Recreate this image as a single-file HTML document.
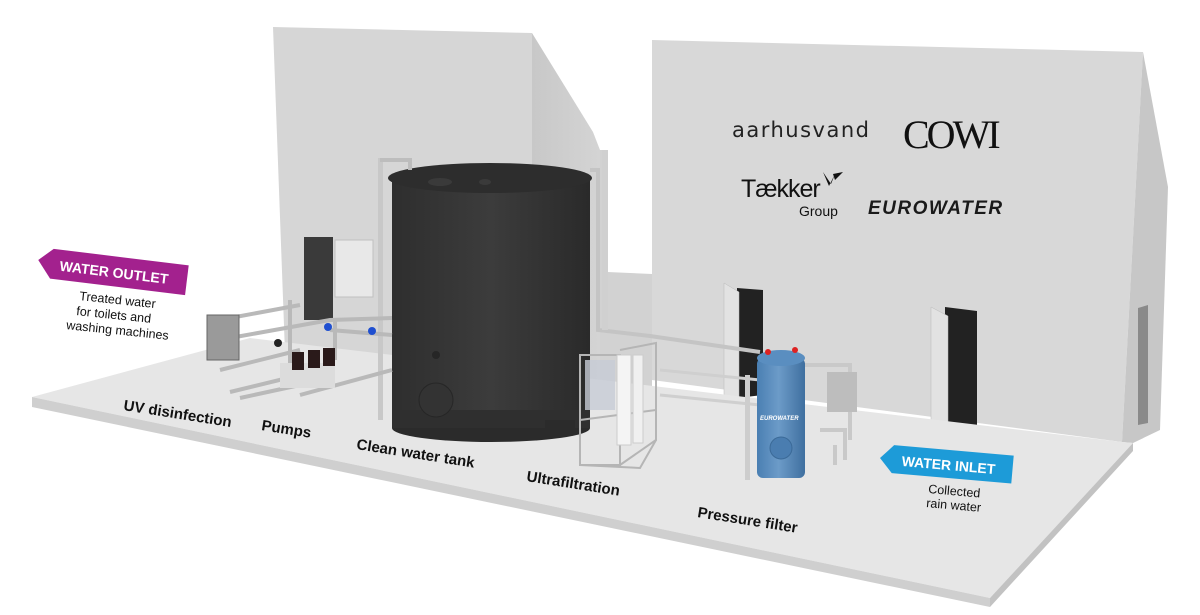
<!DOCTYPE html>
<html><head><meta charset="utf-8"><style>
html,body{margin:0;padding:0;background:#fff;}
svg{display:block}
.lbl{font-family:"Liberation Sans",sans-serif;font-weight:bold;fill:#111;font-size:15px}
.sm{font-family:"Liberation Sans",sans-serif;fill:#111;font-size:12.5px}
</style></head><body>
<svg width="1200" height="615" viewBox="0 0 1200 615" xmlns="http://www.w3.org/2000/svg">
<defs>
<linearGradient id="tank" x1="0" x2="1" y1="0" y2="0">
<stop offset="0" stop-color="#2e2e2e"/><stop offset="0.5" stop-color="#3c3c3c"/><stop offset="1" stop-color="#2a2a2a"/></linearGradient>
<linearGradient id="blue" x1="0" x2="1"><stop offset="0" stop-color="#4a7fb2"/><stop offset="0.45" stop-color="#6c9bc8"/><stop offset="1" stop-color="#3f6f9f"/></linearGradient>
<linearGradient id="side" x1="0" x2="1"><stop offset="0" stop-color="#c8c8c8"/><stop offset="1" stop-color="#d4d4d4"/></linearGradient>
</defs>
<rect width="1200" height="615" fill="#fff"/>
<polygon points="273,27 532,33 532,380 286,380" fill="#d6d6d6"/>
<polygon points="532,33 593,132 600,150 600,380 532,380" fill="url(#side)"/>
<polygon points="600,150 607,150 607,272 652,274 652,420 600,420" fill="#d2d2d2"/>
<polygon points="652,40 1143,52 1122,442 652,380" fill="#d8d8d8"/>
<polygon points="1143,52 1168,187 1160,430 1133,443 1122,442" fill="#c7c7c7"/>
<polygon points="1138,308 1148,305 1148,423 1138,425" fill="#8a8a8a"/>
<rect x="304" y="237" width="29" height="83" fill="#3a3a3a"/>
<rect x="335" y="240" width="38" height="57" fill="#e8e8e8" stroke="#c0c0c0"/>
<polygon points="737,288 763,290 763,395 737,398" fill="#222"/>
<polygon points="724,283 739,292 739,402 724,398" fill="#e2e2e2" stroke="#bbb" stroke-width="0.5"/>
<polygon points="945,307 977,311 977,425 945,428" fill="#222"/>
<polygon points="931,307 948,316 948,432 931,428" fill="#e2e2e2" stroke="#bbb" stroke-width="0.5"/>
<polygon points="32,397 250,338 1122,442 1133,443 990,598" fill="#e6e6e6"/>
<polygon points="32,397 990,598 990,607 32,407" fill="#cfcfcf"/>
<polygon points="990,598 1133,443 1133,451 990,607" fill="#c2c2c2"/>
<text x="732" y="137" font-family="DejaVu Sans,sans-serif" font-size="21" fill="#222" letter-spacing="1.5">aarhusvand</text>
<text x="903" y="148" font-family="Liberation Serif,serif" font-size="40" fill="#111" letter-spacing="-3">COWI</text>
<text x="741" y="197" font-family="Liberation Sans,sans-serif" font-size="25" fill="#111" letter-spacing="-1">Tækker</text>
<path d="M823,172 l6,14 l6,-12 l-4,10 z M833,174 l10,-2 l-8,8z" fill="#111"/>
<text x="799" y="216" font-family="Liberation Sans,sans-serif" font-size="14" fill="#111">Group</text>
<text x="868" y="214" font-family="Liberation Sans,sans-serif" font-size="19" font-weight="bold" font-style="italic" fill="#1a1a1a" letter-spacing="1.5">EUROWATER</text>
<rect x="392" y="178" width="198" height="250" fill="url(#tank)"/>
<ellipse cx="491" cy="428" rx="99" ry="14" fill="#2b2b2b"/>
<rect x="392" y="410" width="198" height="18" fill="#2f2f2f"/>
<ellipse cx="490" cy="178" rx="102" ry="15" fill="#2d2d2d"/>
<ellipse cx="440" cy="182" rx="12" ry="4" fill="#3a3a3a"/>
<ellipse cx="485" cy="182" rx="6" ry="3" fill="#3a3a3a"/>
<circle cx="436" cy="400" r="17" fill="#333" stroke="#262626"/>
<circle cx="436" cy="355" r="4" fill="#262626"/>
<rect x="378" y="158" width="5" height="262" fill="#c8c8c8"/>
<path d="M380,160 H410 V170" stroke="#bdbdbd" stroke-width="4" fill="none"/>
<path d="M590,170 H598 V330 L650,336 L760,352" stroke="#c4c4c4" stroke-width="4" fill="none"/>
<rect x="602" y="150" width="6" height="180" fill="#d0d0d0"/>
<g stroke="#b9b9b9" stroke-width="4" fill="none">
<path d="M230,318 L300,305"/><path d="M230,338 L330,320 L392,318"/>
<path d="M220,370 L300,350"/><path d="M230,392 L300,375"/><path d="M240,398 L300,385"/>
<path d="M290,300 V385"/><path d="M335,318 V360"/>
<path d="M300,395 L392,370"/><path d="M330,330 L392,335"/>
</g>
<rect x="207" y="315" width="32" height="45" fill="#9a9a9a" stroke="#666"/>
<rect x="280" y="363" width="55" height="25" fill="#dcdcdc"/>
<rect x="292" y="352" width="12" height="18" fill="#2a1a1a"/>
<rect x="308" y="350" width="12" height="18" fill="#2a1a1a"/>
<rect x="323" y="348" width="12" height="18" fill="#2a1a1a"/>
<circle cx="328" cy="327" r="4" fill="#1f4fd0"/><circle cx="372" cy="331" r="4" fill="#1f4fd0"/>
<circle cx="278" cy="343" r="4" fill="#222"/>
<g stroke="#b5b5b5" stroke-width="2" fill="none">
<rect x="580" y="355" width="40" height="110"/><path d="M620,350 L656,343 V440 L620,465"/>
<path d="M580,465 L640,468 L656,440"/><path d="M580,420 L656,410"/>
</g>
<rect x="617" y="355" width="14" height="90" fill="#f4f4f4" stroke="#ccc"/>
<rect x="633" y="355" width="10" height="88" fill="#f0f0f0" stroke="#ccc"/>
<rect x="585" y="360" width="30" height="50" fill="#c7ccd6" opacity="0.8"/>
<rect x="545" y="420" width="30" height="15" fill="#2b2b2b"/>
<path d="M660,370 L760,380 M660,395 L760,405" stroke="#cfcfcf" stroke-width="3"/>
<rect x="757" y="358" width="48" height="120" rx="6" fill="url(#blue)"/>
<ellipse cx="781" cy="358" rx="24" ry="8" fill="#5a8ec0"/>
<circle cx="781" cy="448" r="11" fill="#4a7db0" stroke="#3b6a98"/>
<text x="760" y="420" font-family="Liberation Sans,sans-serif" font-size="6" font-weight="bold" font-style="italic" fill="#fff">EUROWATER</text>
<circle cx="768" cy="352" r="3" fill="#d22"/><circle cx="795" cy="350" r="3" fill="#d22"/>
<path d="M805,365 H850 V440 M820,430 H845 V460 M835,445 V465" stroke="#c9c9c9" stroke-width="4" fill="none"/>
<rect x="827" y="372" width="30" height="40" fill="#bdbdbd"/>
<rect x="745" y="375" width="5" height="105" fill="#cdcdcd"/>
<g transform="translate(38,262) rotate(7)">
<polygon points="0,0 14,-13 150,-13 150,17 14,17" fill="#a3218e" transform="translate(0,-2)"/>
<text x="22" y="6" font-family="Liberation Sans,sans-serif" font-weight="bold" font-size="14" fill="#fff">WATER OUTLET</text>
</g>
<text class="sm" transform="translate(79,300) rotate(6)">Treated water</text>
<text class="sm" transform="translate(76,315) rotate(6)">for toilets and</text>
<text class="sm" transform="translate(66,329) rotate(6)">washing machines</text>
<g transform="translate(880,458) rotate(5)">
<polygon points="0,0 13,-14 133,-14 133,14 13,14" fill="#1d9bd8"/>
<text x="22" y="6" font-family="Liberation Sans,sans-serif" font-weight="bold" font-size="14" fill="#fff">WATER INLET</text>
</g>
<text class="sm" transform="translate(928,493) rotate(5)">Collected</text>
<text class="sm" transform="translate(926,507) rotate(5)">rain water</text>
<text class="lbl" transform="translate(123,410) rotate(9)">UV disinfection</text>
<text class="lbl" transform="translate(261,430) rotate(9)">Pumps</text>
<text class="lbl" transform="translate(356,449) rotate(9)">Clean water tank</text>
<text class="lbl" transform="translate(526,481) rotate(9)">Ultrafiltration</text>
<text class="lbl" transform="translate(697,517) rotate(9)">Pressure filter</text>
</svg>
</body></html>
